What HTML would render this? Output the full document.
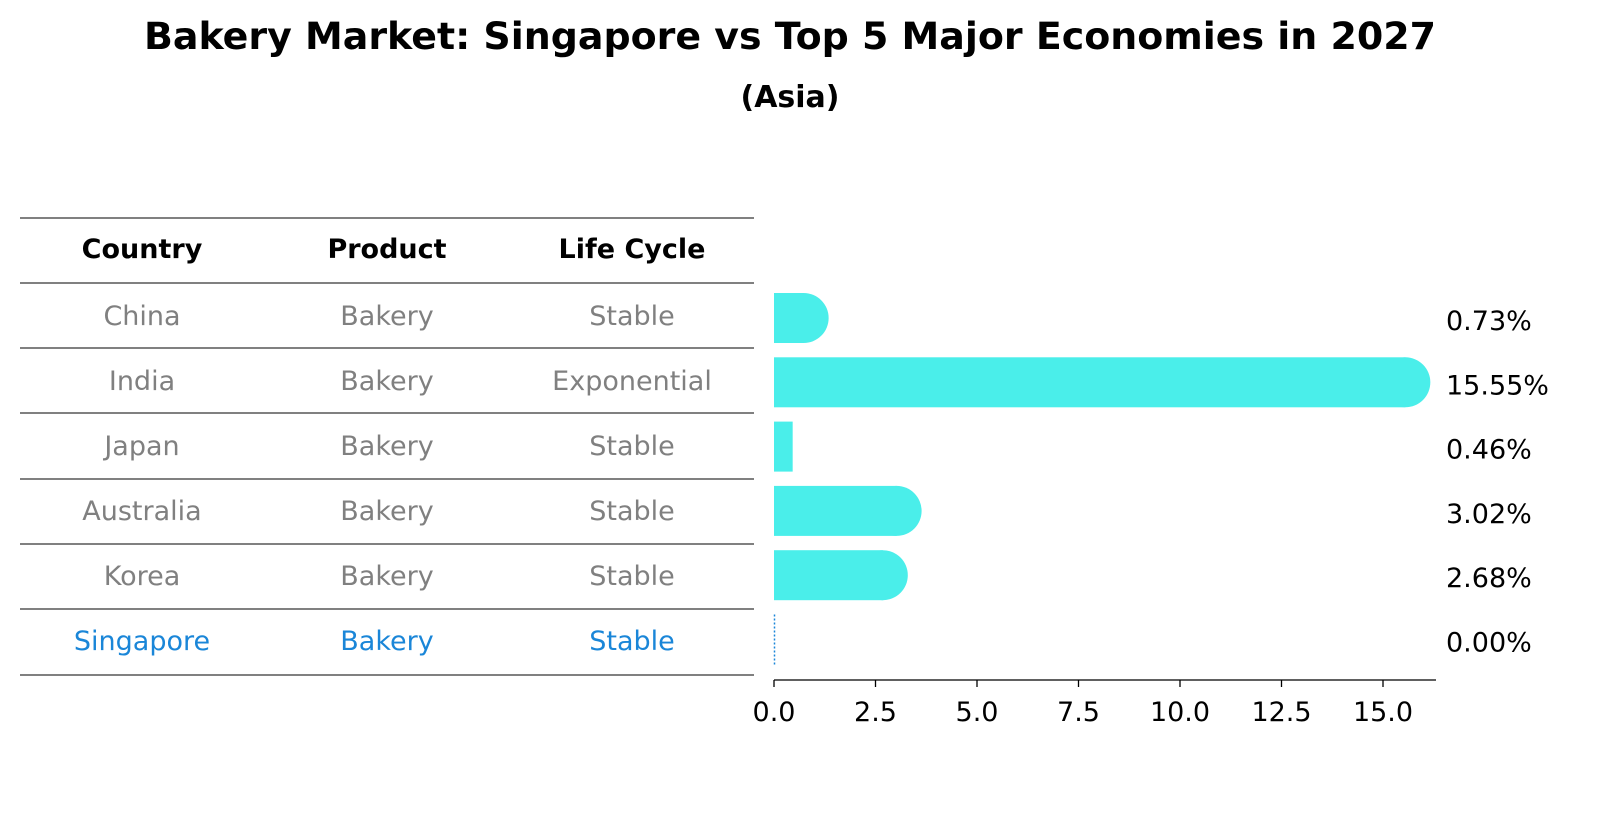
<!DOCTYPE html>
<html><head><meta charset="utf-8"><style>
body{margin:0;background:#fff;font-family:"Liberation Sans","DejaVu Sans",sans-serif;}
</style></head><body>
<svg width="1604" height="823" viewBox="0 0 1604 823" xmlns="http://www.w3.org/2000/svg" font-family="DejaVu Sans, Liberation Sans, sans-serif">
<text x="790" y="49" text-anchor="middle" font-size="37" font-weight="bold" textLength="1292" lengthAdjust="spacingAndGlyphs">Bakery Market: Singapore vs Top 5 Major Economies in 2027</text>
<text x="790" y="107" text-anchor="middle" font-size="30" font-weight="bold">(Asia)</text>
<g id="table"></g>
<g id="bars"></g>
</svg>
<script>
const countries=["China","India","Japan","Australia","Korea","Singapore"];
const products=["Bakery","Bakery","Bakery","Bakery","Bakery","Bakery"];
const lifecycles=["Stable","Exponential","Stable","Stable","Stable","Stable"];
const values=[0.73,15.55,0.46,3.02,2.68,0.00];
const ticks=[0,2.5,5,7.5,10,12.5,15];
const NS="http://www.w3.org/2000/svg";
function mk(t,a,p){const e=document.createElementNS(NS,t);for(const k in a)e.setAttribute(k,a[k]);p.appendChild(e);return e;}
const tbl=document.getElementById('table'),bars=document.getElementById('bars');
const lineYs=[218,283,348,413,479,544,609,675];
lineYs.forEach((y,i)=>{const l=mk('line',{x1:20,x2:754,y1:y,y2:y,stroke:'#000','stroke-width':1},tbl);

});
const colX=[142,387,632];
["Country","Product","Life Cycle"].forEach((h,i)=>{const t=mk('text',{x:colX[i],y:258,'text-anchor':'middle','font-size':27,'font-weight':'bold'},tbl);t.textContent=h;

});
const x=v=>774+v*40.6;
const rowY=i=>318+i*64.3;
countries.forEach((c,i)=>{
 const col=c==="Singapore"?"#1a86d8":"#808080";
 [c,products[i],lifecycles[i]].forEach((s,j)=>{const t=mk('text',{x:colX[j],y:325+i*65,'text-anchor':'middle','font-size':27,fill:col},tbl);t.textContent=s;
 
 });
 const cy=rowY(i),v=values[i];
 if(v>0){
  const r=mk('rect',{x:774,y:cy-25,width:x(v)-774,height:50,fill:'#4aeeea'},bars);
  
  
  if(v>0.5){const cc=mk('circle',{cx:x(v),cy:cy,r:25,fill:'#4aeeea'},bars);
  
  }
 } else {
  const d=mk('line',{x1:774.5,x2:774.5,y1:cy-25,y2:cy+25,stroke:'#1a86d8','stroke-width':1.5,'stroke-dasharray':'2,2'},bars);
  
  
 }
 const lb=mk('text',{x:1446,y:cy+12,'font-size':27},bars);lb.textContent=v.toFixed(2)+'%';
 
 
});
const ax=mk('line',{x1:774,x2:1436,y1:680,y2:680,stroke:'#000','stroke-width':1.3},bars);


ticks.forEach(t=>{const tk=mk('line',{x1:x(t),x2:x(t),y1:680,y2:687,stroke:'#000','stroke-width':1.3},bars);


const tl=mk('text',{x:x(t),y:721,'text-anchor':'middle','font-size':27},bars);tl.textContent=t.toFixed(1);

});
</script>
</body></html>
